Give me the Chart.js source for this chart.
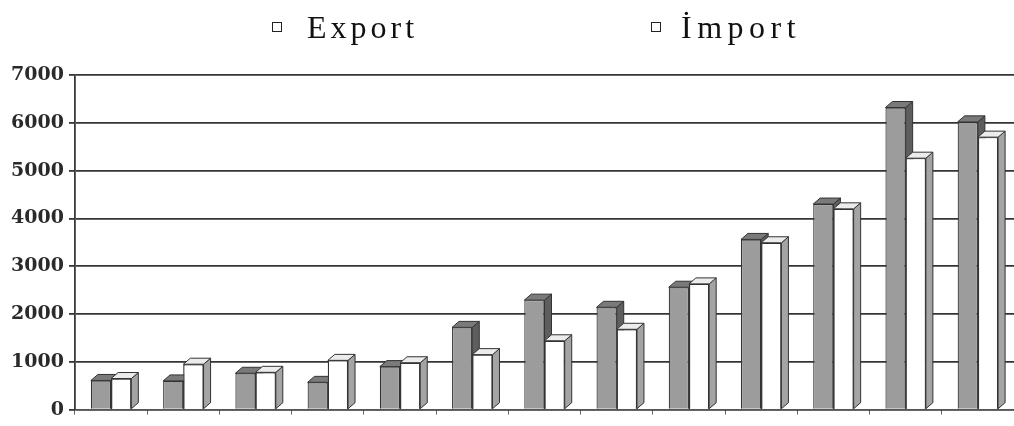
<!DOCTYPE html>
<html>
<head>
<meta charset="utf-8">
<script src="https://cdn.jsdelivr.net/npm/chart.js@4/dist/chart.umd.min.js"></script>
<style>
  html, body { margin: 0; padding: 0; background: #ffffff; }
  #wrap { width: 1014px; height: 426px; }
</style>
</head>
<body>
<div id="wrap"><canvas id="c" width="1014" height="426"></canvas></div>
<script>
const categories = ['1', '2', '3', '4', '5', '6', '7', '8', '9', '10', '11', '12', '13'];
const seriesNames = ['Export', 'İmport'];
const exportValues = [610, 600, 760, 570, 900, 1720, 2290, 2140, 2560, 3560, 4300, 6320, 6020];
const importValues = [650, 950, 780, 1030, 980, 1150, 1440, 1680, 2630, 3490, 4200, 5260, 5700];
const yTicks = [0, 1000, 2000, 3000, 4000, 5000, 6000, 7000];

const faceStyles = [
  { side: '#5e5e5e', top: '#7a7a7a' },
  { side: '#a4a4a4', top: '#ececec' }
];
const DX = 7, DY = 6;

function drawFaces(ctx, meta, st) {
  meta.data.forEach(el => {
    const p = el.getProps(['x', 'y', 'width', 'base'], true);
    const l = p.x - p.width / 2, r = p.x + p.width / 2;
    ctx.beginPath();
    ctx.moveTo(r, p.y);
    ctx.lineTo(r + DX, p.y - DY);
    ctx.lineTo(r + DX, p.base - DY);
    ctx.lineTo(r, p.base);
    ctx.closePath();
    ctx.fillStyle = st.side;
    ctx.fill();
    ctx.stroke();
    ctx.beginPath();
    ctx.moveTo(l, p.y);
    ctx.lineTo(l + DX, p.y - DY);
    ctx.lineTo(r + DX, p.y - DY);
    ctx.lineTo(r, p.y);
    ctx.closePath();
    ctx.fillStyle = st.top;
    ctx.fill();
    ctx.stroke();
  });
}

const depthPlugin = {
  id: 'depth3d',
  afterDatasetsDraw(chart) {
    const ctx = chart.ctx;
    ctx.save();
    ctx.lineWidth = 1;
    ctx.strokeStyle = '#333';
    const m0 = chart.getDatasetMeta(0);
    const m1 = chart.getDatasetMeta(1);
    drawFaces(ctx, m0, faceStyles[0]);
    ctx.restore();
    m1.data.forEach(el => el.draw(ctx, chart.chartArea));
    ctx.save();
    ctx.lineWidth = 1;
    ctx.strokeStyle = '#333';
    drawFaces(ctx, m1, faceStyles[1]);
    ctx.restore();
  }
};

const legendPos = [{ box: 272, text: 307, spacing: '4px' }, { box: 651, text: 681, spacing: '5.5px' }];
const legendPlugin = {
  id: 'topLegend',
  afterDraw(chart) {
    const ctx = chart.ctx;
    ctx.save();
    chart.data.datasets.forEach((ds, i) => {
      const pos = legendPos[i];
      ctx.fillStyle = '#ffffff';
      ctx.fillRect(pos.box, 22, 10, 10);
      ctx.strokeStyle = '#222';
      ctx.lineWidth = 1;
      ctx.strokeRect(pos.box + 0.5, 22.5, 9, 9);
      ctx.font = '32px "Liberation Serif"';
      ctx.letterSpacing = pos.spacing;
      ctx.fillStyle = '#111';
      ctx.textBaseline = 'alphabetic';
      ctx.textAlign = 'left';
      ctx.fillText(ds.label, pos.text, 38);
    });
    ctx.restore();
  }
};

new Chart(document.getElementById('c'), {
  type: 'bar',
  data: {
    labels: categories,
    datasets: [
      {
        label: seriesNames[0],
        data: exportValues,
        backgroundColor: '#9c9c9c',
        borderColor: '#333',
        borderWidth: 1.2
      },
      {
        label: seriesNames[1],
        data: importValues,
        backgroundColor: '#ffffff',
        borderColor: '#333',
        borderWidth: 1.2
      }
    ]
  },
  options: {
    responsive: false,
    animation: false,
    categoryPercentage: 0.56,
    barPercentage: 1.0,
    layout: { padding: { left: 0, right: 0, top: 75, bottom: 4 } },
    plugins: {
      legend: { display: false },
      tooltip: { enabled: false }
    },
    scales: {
      x: {
        offset: true,
        grid: { drawOnChartArea: false, drawTicks: true, tickLength: 5, color: '#666', lineWidth: 1, offset: true },
        border: { display: true, color: '#555', width: 1 },
        ticks: { display: false }
      },
      y: {
        min: 0,
        max: 7000,
        afterBuildTicks(scale) { scale.ticks = yTicks.map(v => ({ value: v })); },
        afterFit(scale) { scale.width = 75; },
        ticks: {
          font: { family: '"DejaVu Serif"', size: 19, weight: 'bold' },
          color: '#2a2a2a',
          padding: 5,
          callback: v => String(v)
        },
        grid: { color: '#353535', lineWidth: 1.8, tickLength: 6 },
        border: { display: true, color: '#3a3a3a', width: 1.8 }
      }
    }
  },
  plugins: [depthPlugin, legendPlugin]
});
</script>
</body>
</html>
